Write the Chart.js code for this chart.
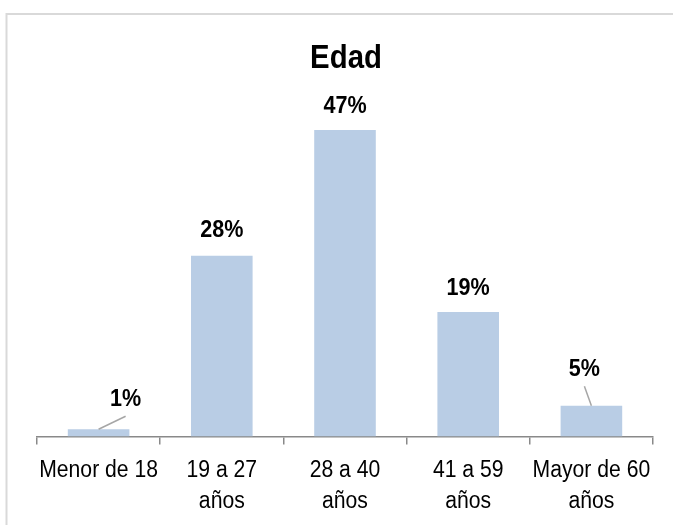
<!DOCTYPE html>
<html>
<head>
<meta charset="utf-8">
<style>
  html, body { margin: 0; padding: 0; background: #fff; }
  #wrap { width: 673px; height: 525px; position: relative; }
</style>
<script src="https://cdn.jsdelivr.net/npm/chart.js@4.4.1/dist/chart.umd.min.js"></script>
</head>
<body>
<div id="wrap"><canvas id="c" width="673" height="525"></canvas></div>
<script>
const categories = [
  'Menor de 18',
  ['19 a 27', 'años'],
  ['28 a 40', 'años'],
  ['41 a 59', 'años'],
  ['Mayor de 60', 'años']
];
const values = [1.1, 27.7, 47, 19.1, 4.7];
const valueLabels = ['1%', '28%', '47%', '19%', '5%'];
const chartTitle = 'Edad';

const FONT = '"Liberation Sans", Arial, Helvetica, sans-serif';

function drawScaled(ctx, text, x, y, sx) {
  ctx.save();
  ctx.translate(x, y);
  ctx.scale(sx, 1);
  ctx.fillText(text, 0, 0);
  ctx.restore();
}

const framePlugin = {
  id: 'frame',
  beforeDraw(chart) {
    const ctx = chart.ctx;
    ctx.save();
    ctx.fillStyle = '#ffffff';
    ctx.fillRect(0, 0, chart.width, chart.height);
    ctx.strokeStyle = '#d9d9d9';
    ctx.lineWidth = 2;
    ctx.strokeRect(6.5, 14, chart.width + 20, chart.height + 20);
    ctx.restore();
  }
};

// Title drawn with a slight horizontal compression, like the reference
const titlePlugin = {
  id: 'compressedTitle',
  afterDraw(chart, args, opts) {
    const ctx = chart.ctx;
    const a = chart.chartArea;
    ctx.save();
    ctx.fillStyle = '#000';
    ctx.font = opts.font;
    ctx.textAlign = 'center';
    ctx.textBaseline = 'alphabetic';
    drawScaled(ctx, opts.text, (a.left + a.right) / 2 + 1, opts.baseline, opts.scaleX);
    ctx.restore();
  }
};

// Category labels drawn from the x scale's ticks
const tickLabelPlugin = {
  id: 'tickLabels',
  afterDraw(chart, args, opts) {
    const ctx = chart.ctx;
    const xs = chart.scales.x;
    ctx.save();
    ctx.fillStyle = '#000';
    ctx.font = opts.font;
    ctx.textAlign = 'center';
    ctx.textBaseline = 'alphabetic';
    xs.ticks.forEach((t, i) => {
      const lab = chart.data.labels[i];
      const lines = Array.isArray(lab) ? lab : [lab];
      const x = xs.getPixelForTick(i);
      lines.forEach((ln, j) => {
        drawScaled(ctx, ln, x, xs.top + opts.firstBaseline + j * opts.lineGap, opts.scaleX);
      });
    });
    ctx.restore();
  }
};

const barLabelPlugin = {
  id: 'barLabels',
  afterDatasetsDraw(chart, args, opts) {
    const ctx = chart.ctx;
    const meta = chart.getDatasetMeta(0);
    ctx.save();
    ctx.font = opts.font;
    ctx.fillStyle = '#000';
    ctx.textAlign = 'center';
    ctx.textBaseline = 'alphabetic';
    meta.data.forEach((bar, i) => {
      const off = opts.offsets[i];
      const lx = bar.x + off.dx;
      const ly = bar.y + off.dy;
      if (off.leader) {
        ctx.save();
        ctx.strokeStyle = '#a6a6a6';
        ctx.lineWidth = 1.5;
        ctx.beginPath();
        ctx.moveTo(bar.x, bar.y);
        ctx.lineTo(lx, ly + 10);
        ctx.stroke();
        ctx.restore();
      }
      drawScaled(ctx, opts.labels[i], lx, ly, opts.scaleX);
    });
    ctx.restore();
  }
};

new Chart(document.getElementById('c'), {
  type: 'bar',
  data: {
    labels: categories,
    datasets: [{
      data: values,
      backgroundColor: '#b9cde5',
      borderWidth: 0,
      barPercentage: 0.5,
      categoryPercentage: 1.0
    }]
  },
  options: {
    responsive: false,
    animation: false,
    devicePixelRatio: 1,
    layout: { padding: { left: 37, right: 20, top: 110.5, bottom: 0.5 } },
    plugins: {
      legend: { display: false },
      tooltip: { enabled: false },
      title: { display: false },
      compressedTitle: {
        text: chartTitle,
        font: 'bold 33px ' + FONT,
        baseline: 68.3,
        scaleX: 0.89
      },
      tickLabels: {
        font: '23px ' + FONT,
        scaleX: 0.92,
        firstBaseline: 41,
        lineGap: 30.6
      },
      barLabels: {
        labels: valueLabels,
        font: 'bold 24.5px ' + FONT,
        scaleX: 0.88,
        offsets: [
          { dx: 27, dy: -23, leader: true },
          { dx: 0, dy: -18.5 },
          { dx: 0, dy: -17.3 },
          { dx: 0, dy: -17 },
          { dx: -7, dy: -29.5, leader: true }
        ]
      }
    },
    scales: {
      x: {
        offset: true,
        grid: {
          offset: true,
          drawOnChartArea: false,
          drawTicks: true,
          tickLength: 8,
          color: '#898989',
          lineWidth: 1.5
        },
        border: { display: true, color: '#898989', width: 1.5 },
        ticks: {
          color: 'rgba(0,0,0,0)',
          font: { family: FONT, size: 21, lineHeight: 1.43 },
          padding: 10,
          autoSkip: false,
          maxRotation: 0,
          minRotation: 0
        }
      },
      y: {
        display: false,
        min: 0,
        max: 50
      }
    }
  },
  plugins: [framePlugin, barLabelPlugin, tickLabelPlugin, titlePlugin]
});
</script>
</body>
</html>
